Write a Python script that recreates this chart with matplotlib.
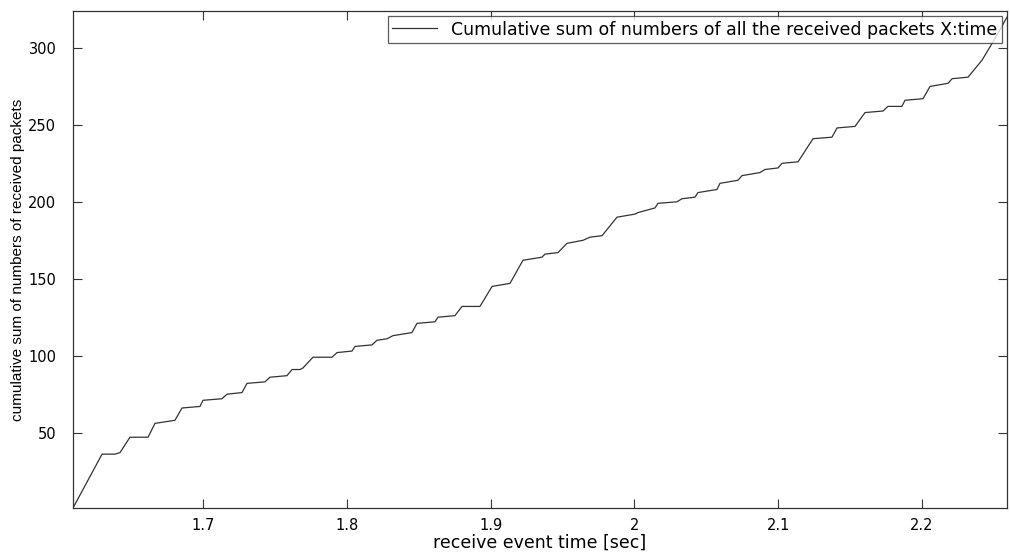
import matplotlib
matplotlib.use("Agg")
import matplotlib.pyplot as plt

plt.rcParams["font.family"] = ["DejaVu Sans"]

# breakpoints of the cumulative packet count
waktu = [
    1.6096, 1.6298, 1.6388, 1.6423, 1.6492, 1.6583, 1.6618, 1.6666, 1.6805,
    1.6854, 1.6979, 1.7000, 1.7132, 1.7167, 1.7271, 1.7306, 1.7431, 1.7466,
    1.7584, 1.7619, 1.7675, 1.7695, 1.7765, 1.7897, 1.7932, 1.8036, 1.8057,
    1.8175, 1.8210, 1.8280, 1.8321, 1.8453, 1.8488, 1.8613, 1.8634, 1.8752,
    1.8801, 1.8926, 1.9010, 1.9135, 1.9225, 1.9357, 1.9378, 1.9469, 1.9531,
    1.9643, 1.9691, 1.9775, 1.9879, 2.0004, 2.0025, 2.0143, 2.0164, 2.0296,
    2.0331, 2.0421, 2.0442, 2.0574, 2.0595, 2.0720, 2.0748, 2.0873, 2.0908,
    2.0999, 2.1026, 2.1138, 2.1242, 2.1374, 2.1409, 2.1534, 2.1604, 2.1729,
    2.1763, 2.1860, 2.1882, 2.2007, 2.2056, 2.2181, 2.2209, 2.2320, 2.2417,
    2.2494, 2.2591,
]
jumlah_paket = [
    1, 36, 36, 37, 47, 47, 47, 56, 58,
    66, 67, 71, 72, 75, 76, 82, 83, 86,
    87, 91, 91, 92, 99, 99, 102, 103, 106,
    107, 110, 111, 113, 115, 121, 122, 125, 126,
    132, 132, 145, 147, 162, 164, 166, 167, 173,
    175, 177, 178, 190, 192, 193, 196, 199, 200,
    202, 203, 206, 208, 212, 214, 217, 219, 221,
    222, 225, 226, 241, 242, 248, 249, 258, 259,
    262, 262, 266, 267, 275, 277, 280, 281, 292,
    304, 320,
]

x_ticks = [1.7, 1.8, 1.9, 2.0, 2.1, 2.2]
x_tick_labels = ["1.7", "1.8", "1.9", "2", "2.1", "2.2"]
y_ticks = [50, 100, 150, 200, 250, 300]

fig = plt.figure(figsize=(10.1, 5.54), dpi=100)
ax = fig.add_axes([73 / 1010, 46 / 554, 934 / 1010, 497 / 554])

ax.plot(
    waktu,
    jumlah_paket,
    color="#333333",
    linewidth=0.9,
    label="Cumulative sum of numbers of all the received packets X:time"
)

ax.set_xlim(1.6096, 2.2591)
ax.set_ylim(1, 324)
ax.set_xticks(x_ticks)
ax.set_xticklabels(x_tick_labels)
ax.set_yticks(y_ticks)

ax.tick_params(
    direction="in",
    top=True,
    right=True,
    length=6.5,
    width=0.8,
    color="#333333",
    labelsize=10.5,
)
ax.tick_params(axis="y", pad=12)
ax.tick_params(axis="x", pad=7)

for s in ax.spines.values():
    s.set_linewidth(0.9)
    s.set_color("#333333")

ax.set_xlabel("receive event time [sec]", fontsize=12.5, labelpad=1)
ax.set_ylabel(
    "cumulative sum of numbers of received packets",
    fontsize=11,
    family="Liberation Sans",
    labelpad=2,
)

leg = ax.legend(
    loc="upper right",
    prop={"size": 12.5},
    fancybox=False,
    frameon=True,
    edgecolor="#333333",
    borderaxespad=0.3,
    handlelength=2.6,
    handletextpad=0.8,
    borderpad=0.25,
)
leg.get_frame().set_linewidth(0.9)

fig.savefig("out.png", dpi=100)
